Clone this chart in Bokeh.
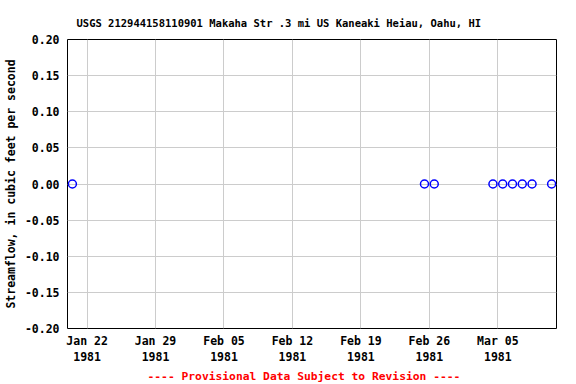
from datetime import datetime
from bokeh.plotting import figure
from bokeh.models import (ColumnDataSource, FixedTicker, NumeralTickFormatter, Range1d, Title)
from bokeh.embed import file_html
from bokeh.resources import INLINE

# data
dates = ["1981-01-20 12:00", "1981-02-25 12:00", "1981-02-26 12:00", "1981-03-04 12:00",
         "1981-03-05 12:00", "1981-03-06 12:00", "1981-03-07 12:00", "1981-03-08 12:00",
         "1981-03-10 12:00"]
flow = [0.0, 0.0, 0.0, 0.0, 0.0, 0.0, 0.0, 0.0, 0.0]
tick_dates = ["1981-01-22", "1981-01-29", "1981-02-05", "1981-02-12", "1981-02-19", "1981-02-26", "1981-03-05"]
tick_labels = ["Jan 22\n1981", "Jan 29\n1981", "Feb 05\n1981", "Feb 12\n1981", "Feb 19\n1981", "Feb 26\n1981", "Mar 05\n1981"]
y_ticks = [-0.20, -0.15, -0.10, -0.05, 0.0, 0.05, 0.10, 0.15, 0.20]
x_start, x_end = "1981-01-20", "1981-03-11"
title_text = "USGS 212944158110901 Makaha Str .3 mi US Kaneaki Heiau, Oahu, HI"
ylabel = "Streamflow, in cubic feet per second"
footer = "---- Provisional Data Subject to Revision ----"

def ms(s):
    fmt = "%Y-%m-%d %H:%M" if ":" in s else "%Y-%m-%d"
    return (datetime.strptime(s, fmt) - datetime(1970, 1, 1)).total_seconds() * 1000.0

FONT = "DejaVu Sans Mono"

src = ColumnDataSource(dict(x=[datetime.strptime(d, "%Y-%m-%d %H:%M") for d in dates], y=flow))

p = figure(frame_width=489, frame_height=289, x_axis_type="datetime", output_backend="svg",
           toolbar_location=None,
           x_range=Range1d(ms(x_start), ms(x_end)), y_range=Range1d(-0.2, 0.2),
           min_border_left=0, min_border_right=14, min_border_top=39, min_border_bottom=0)

p.title = Title(text=title_text, align="left", offset=9, text_font=FONT,
                text_font_size="10.5px", text_font_style="bold", text_color="black",
                standoff=21)

tv = [ms(t) for t in tick_dates]
p.xaxis.ticker = FixedTicker(ticks=tv)
p.xaxis.major_label_overrides = {v: l for v, l in zip(tv, tick_labels)}
p.yaxis.ticker = FixedTicker(ticks=y_ticks)
p.yaxis.formatter = NumeralTickFormatter(format="0.00")
p.yaxis.axis_label = ylabel

for ax in (p.xaxis[0], p.yaxis[0]):
    ax.major_label_text_font = FONT
    ax.major_label_text_font_style = "bold"
    ax.major_label_text_font_size = "11.5px"
    ax.major_label_text_color = "black"
    ax.major_tick_line_color = None
    ax.minor_tick_line_color = None
    ax.major_tick_out = 0
    ax.major_tick_in = 0
    ax.minor_tick_out = 0
    ax.minor_tick_in = 0
    ax.axis_line_color = None
    ax.axis_label_text_font = FONT
    ax.axis_label_text_font_style = "bold"
    ax.axis_label_text_font_size = "11.5px"
    ax.axis_label_text_color = "black"

p.yaxis.major_label_standoff = 8
p.yaxis.axis_label_standoff = 4
p.xaxis.major_label_standoff = 5

p.xgrid.ticker = FixedTicker(ticks=tv)
p.grid.grid_line_color = "#cccccc"
p.grid.grid_line_width = 1
p.outline_line_color = "black"
p.outline_line_width = 1
p.background_fill_color = "white"
p.border_fill_color = "white"

p.scatter("x", "y", source=src, marker="circle", size=8, fill_color=None,
          line_color="blue", line_width=1.5)

p.add_layout(Title(text=footer, align="left", offset=80, text_font=FONT,
                   text_font_size="11.3px", text_font_style="bold", text_color="red",
                   standoff=0), "below")

open("out.html", "w").write(file_html(p, INLINE))
